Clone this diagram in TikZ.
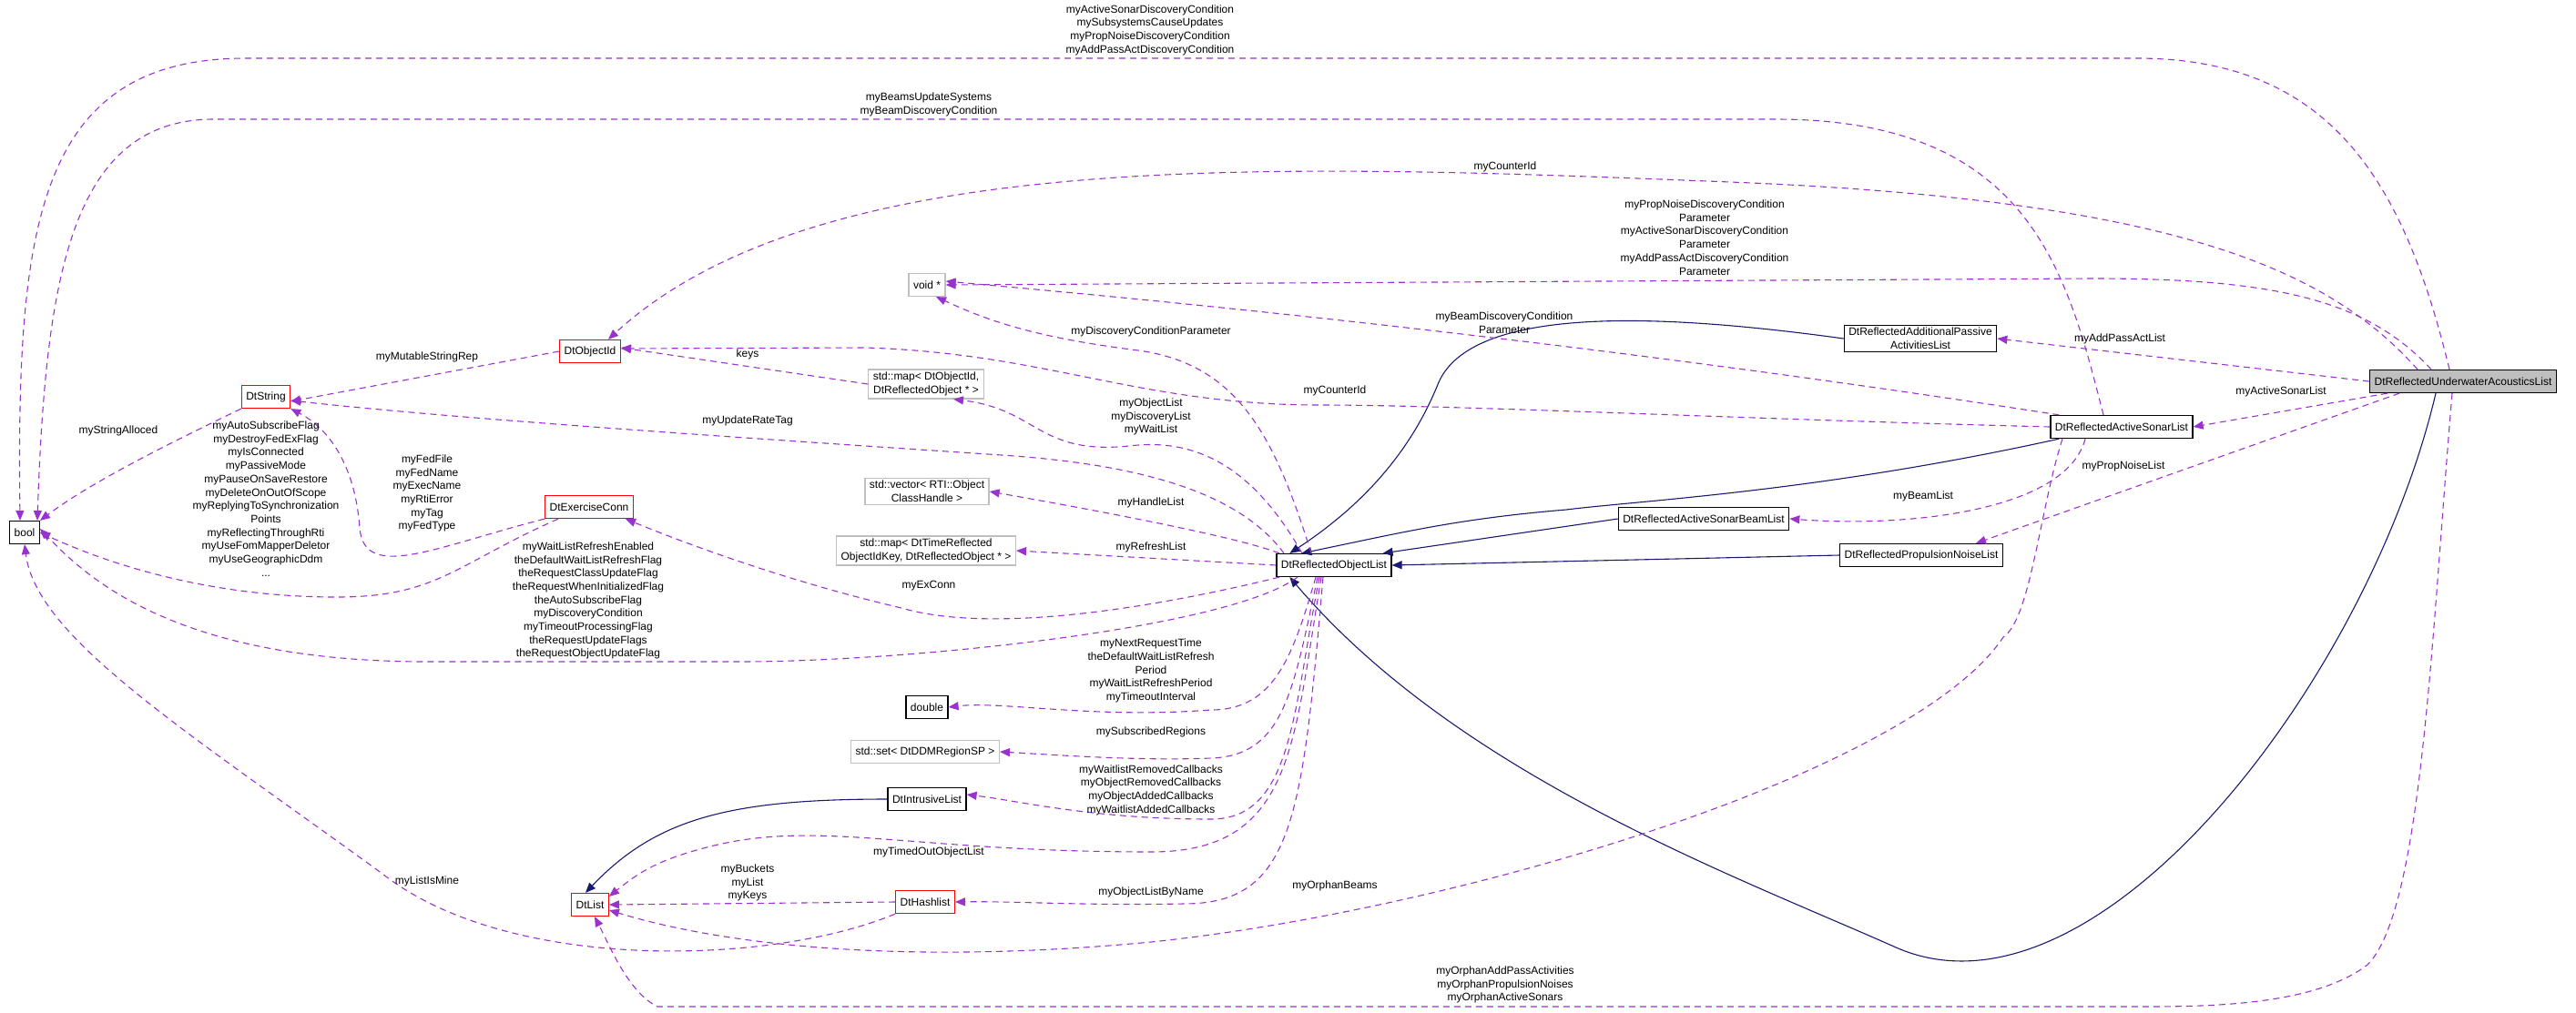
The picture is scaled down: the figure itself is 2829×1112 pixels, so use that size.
\documentclass[tikz,border=0pt]{standalone}
\usepackage{fontspec}
\setmainfont{Liberation Sans}
\usetikzlibrary{arrows.meta}
\definecolor{usecol}{HTML}{9A32CD}
\definecolor{inhcol}{HTML}{191970}
\begin{document}
\begin{tikzpicture}[x=1pt,y=-1pt,
    font=\fontsize{12}{14.7}\selectfont,
    box/.style={draw=black,line width=1.2pt,fill=white,minimum height=25pt,inner xsep=5pt,inner ysep=3pt,align=center},
    redbox/.style={box,draw=red},
    graybox/.style={box,draw=black!25},
    rootbox/.style={box,fill=black!25},
    use/.style={draw=usecol,line width=1.1pt,dash pattern=on 7pt off 5pt,-{Triangle[length=11pt,width=9pt]}},
    inh/.style={draw=inhcol,line width=1.1pt,-{Triangle[length=11pt,width=9pt]}},
    lbl/.style={align=center,inner sep=0pt}]
\useasboundingbox (0,0) rectangle (2829,1112);

\node[box] (bool) at (27,585) {bool};
\node[redbox] (dtstr) at (292,436) {DtString};
\node[redbox] (dtoid) at (648,386) {DtObjectId};
\node[redbox] (exconn) at (647,557) {DtExerciseConn};
\node[graybox] (voidp) at (1018,313) {void *};
\node[graybox] (mapoid) at (1017,422) {std::map\textless{} DtObjectId,\\DtReflectedObject * \textgreater};
\node[graybox] (vechnd) at (1018,540) {std::vector\textless{} RTI::Object\\ClassHandle \textgreater};
\node[graybox] (maptime) at (1017,605) {std::map\textless{} DtTimeReflected\\ObjectIdKey, DtReflectedObject * \textgreater};
\node[box] (objlist) at (1465,621) {DtReflectedObjectList};
\node[box] (double) at (1018,777) {double};
\node[graybox] (regset) at (1016,826) {std::set\textless{} DtDDMRegionSP \textgreater};
\node[box] (intrlist) at (1018,878) {DtIntrusiveList};
\node[redbox] (dtlist) at (648,994) {DtList};
\node[redbox] (hashlist) at (1016,991) {DtHashlist};
\node[box] (addpass) at (2109,372) {DtReflectedAdditionalPassive\\ActivitiesList};
\node[box] (asonar) at (2330,469) {DtReflectedActiveSonarList};
\node[box] (beamlist) at (1871,570) {DtReflectedActiveSonarBeamList};
\node[box] (propnoise) at (2110,610) {DtReflectedPropulsionNoiseList};
\node[rootbox] (uwacl) at (2705,419) {DtReflectedUnderwaterAcousticsList};

% inheritance
\draw[inh] (addpass.west) .. controls (1850,348) and (1620,330) .. (1580,420) .. controls (1560,470) and (1520,540) .. ([xshift=15pt]objlist.north west);
\draw[inh] ([xshift=10pt]asonar.south west) .. controls (2000,540) and (1800,550) .. (1720,560) .. controls (1600,570) and (1540,585) .. ([xshift=28pt]objlist.north west);
\draw[inh] (beamlist.west) -- ([xshift=-10pt]objlist.north east);
\draw[inh] (propnoise.west) -- (objlist.east);
\draw[inh] ([xshift=-30pt]uwacl.south) .. controls (2600,750) and (2300,1140) .. (2080,1040) .. controls (1900,960) and (1600,850) .. ([xshift=15pt]objlist.south west);
\draw[inh] (intrlist.west) .. controls (800,878) and (720,900) .. ([xshift=-5pt]dtlist.north);

% usage
\draw[use] ([xshift=-15pt]uwacl.north) .. controls (2640,200) and (2560,64) .. (2346,64) -- (270,64) .. controls (40,64) and (18,250) .. ([xshift=-5pt]bool.north);
\draw[use] ([xshift=-20pt]asonar.north) .. controls (2270,300) and (2230,131) .. (1950,131) -- (235,131) .. controls (80,131) and (50,300) .. ([xshift=14pt]bool.north);
\draw[use] ([xshift=-50pt]uwacl.north) .. controls (2560,300) and (2400,220) .. (1900,200) .. controls (1400,180) and (900,160) .. ([xshift=20pt]dtoid.north);
\draw[use] ([xshift=-35pt]uwacl.north) .. controls (2600,330) and (2500,306) .. (2300,306) -- (voidp.east);
\draw[use] ([xshift=10pt]asonar.north west) .. controls (1900,400) and (1500,350) .. ([yshift=4pt]voidp.east);
\draw[use] (asonar.west) .. controls (1900,460) and (1600,445) .. (1450,445) .. controls (1250,445) and (1150,388) .. (950,382) -- ([yshift=3pt]dtoid.east);
\draw[use] (uwacl.west) -- (addpass.east);
\draw[use] ([xshift=20pt]uwacl.south west) -- (asonar.east);
\draw[use] ([xshift=-70pt]uwacl.south) -- ([xshift=-30pt]propnoise.north east);
\draw[use] ([xshift=-40pt]asonar.south) .. controls (2270,560) and (2100,580) .. (beamlist.east);
\draw[use] ([xshift=-65pt]asonar.south) .. controls (2240,560) and (2230,680) .. (2200,700) .. controls (2100,850) and (1600,1000) .. (1264,1035) .. controls (1000,1060) and (800,1040) .. ([yshift=-6pt]dtlist.east);
\draw[use] ([xshift=-12pt]uwacl.south) .. controls (2670,700) and (2660,1000) .. (2600,1060) .. controls (2540,1106) and (2420,1106) .. (2346,1106) -- (722,1106) .. controls (690,1090) and (670,1040) .. ([xshift=5pt]dtlist.south);

\draw[use] ([xshift=-25pt]objlist.north) .. controls (1400,480) and (1360,400) .. (1250,385) .. controls (1130,370) and (1080,350) .. ([xshift=10pt]voidp.south);
\draw[use] ([xshift=-35pt]objlist.north) .. controls (1380,520) and (1320,480) .. (1240,490) .. controls (1140,500) and (1140,450) .. ([xshift=30pt]mapoid.south);
\draw[use] ([xshift=-55pt]objlist.north) .. controls (1360,540) and (1250,510) .. (1100,500) .. controls (800,480) and (500,460) .. ([yshift=-4pt]dtstr.east);
\draw[use] ([xshift=-60pt]objlist.north) .. controls (1360,590) and (1200,560) .. (vechnd.east);
\draw[use] (objlist.west) -- (maptime.east);
\draw[use] ([xshift=-60pt]objlist.south) .. controls (1300,660) and (1100,700) .. (990,668) .. controls (870,640) and (760,600) .. ([xshift=40pt]exconn.south);
\draw[use] ([xshift=-40pt]objlist.south) .. controls (1350,690) and (1000,727) .. (812,727) -- (470,727) .. controls (200,727) and (100,640) .. ([yshift=4pt]bool.east);
\draw[use] ([xshift=-20pt]objlist.south) .. controls (1420,720) and (1400,780) .. (1330,780) .. controls (1200,790) and (1100,770) .. (double.east);
\draw[use] ([xshift=-18pt]objlist.south) .. controls (1420,760) and (1410,830) .. (1330,833) .. controls (1250,836) and (1170,830) .. (regset.east);
\draw[use] ([xshift=-16pt]objlist.south) .. controls (1420,780) and (1420,900) .. (1330,900) .. controls (1200,900) and (1120,880) .. ([yshift=5pt]intrlist.east);
\draw[use] ([xshift=-14pt]objlist.south) .. controls (1420,820) and (1420,936) .. (1264,936) .. controls (1000,936) and (900,900) .. (780,930) .. controls (720,945) and (700,960) .. ([yshift=-4pt]dtlist.north east);
\draw[use] ([xshift=-12pt]objlist.south) .. controls (1430,900) and (1420,993) .. (1300,993) .. controls (1180,995) and (1120,990) .. (hashlist.east);

\draw[use] (dtoid.west) -- ([yshift=-5pt]dtstr.east);
\draw[use] (mapoid.west) -- ([yshift=4pt]dtoid.east);
\draw[use] (dtstr.south west) .. controls (180,490) and (100,530) .. (bool.north east);
\draw[use] (exconn.south west) .. controls (480,600) and (400,640) .. (395,580) .. controls (390,510) and (360,470) .. (dtstr.south east);
\draw[use] ([xshift=15pt]exconn.south west) .. controls (500,620) and (480,656) .. (370,656) .. controls (230,656) and (120,620) .. (bool.east);
\draw[use] (hashlist.west) -- (dtlist.east);
\draw[use] (hashlist.south west) .. controls (850,1060) and (560,1070) .. (420,960) .. controls (200,800) and (40,700) .. (bool.south);

% labels
\node[lbl] (l1) at (1263,33) {myActiveSonarDiscoveryCondition\\mySubsystemsCauseUpdates\\myPropNoiseDiscoveryCondition\\myAddPassActDiscoveryCondition};
\node[lbl] (l2) at (1020,115) {myBeamsUpdateSystems\\myBeamDiscoveryCondition};
\node[lbl] (l3) at (1653,183) {myCounterId};
\node[lbl] (l4) at (1872,261) {myPropNoiseDiscoveryCondition\\Parameter\\myActiveSonarDiscoveryCondition\\Parameter\\myAddPassActDiscoveryCondition\\Parameter};
\node[lbl] (l5) at (1652,355) {myBeamDiscoveryCondition\\Parameter};
\node[lbl] (l6) at (1264,364) {myDiscoveryConditionParameter};
\node[lbl] (l7) at (1466,429) {myCounterId};
\node[lbl] (l8) at (821,389) {keys};
\node[lbl] (l9) at (469,392) {myMutableStringRep};
\node[lbl] (l10) at (1264,458) {myObjectList\\myDiscoveryList\\myWaitList};
\node[lbl] (l11) at (821,462) {myUpdateRateTag};
\node[lbl] (l12) at (130,473) {myStringAlloced};
\node[lbl] (l13) at (292,548) {myAutoSubscribeFlag\\myDestroyFedExFlag\\myIsConnected\\myPassiveMode\\myPauseOnSaveRestore\\myDeleteOnOutOfScope\\myReplyingToSynchronization\\Points\\myReflectingThroughRti\\myUseFomMapperDeletor\\myUseGeographicDdm\\...};
\node[lbl] (l14) at (469,542) {myFedFile\\myFedName\\myExecName\\myRtiError\\myTag\\myFedType};
\node[lbl] (l15) at (1264,552) {myHandleList};
\node[lbl] (l16) at (1264,601) {myRefreshList};
\node[lbl] (l17) at (1020,644) {myExConn};
\node[lbl] (l18) at (646,660) {myWaitListRefreshEnabled\\theDefaultWaitListRefreshFlag\\theRequestClassUpdateFlag\\theRequestWhenInitializedFlag\\theAutoSubscribeFlag\\myDiscoveryCondition\\myTimeoutProcessingFlag\\theRequestUpdateFlags\\theRequestObjectUpdateFlag};
\node[lbl] (l19) at (1264,737) {myNextRequestTime\\theDefaultWaitListRefresh\\Period\\myWaitListRefreshPeriod\\myTimeoutInterval};
\node[lbl] (l20) at (1264,804) {mySubscribedRegions};
\node[lbl] (l21) at (1264,868) {myWaitlistRemovedCallbacks\\myObjectRemovedCallbacks\\myObjectAddedCallbacks\\myWaitlistAddedCallbacks};
\node[lbl] (l22) at (1020,936) {myTimedOutObjectList};
\node[lbl] (l23) at (821,970) {myBuckets\\myList\\myKeys};
\node[lbl] (l24) at (469,968) {myListIsMine};
\node[lbl] (l25) at (1264,980) {myObjectListByName};
\node[lbl] (l26) at (1466,973) {myOrphanBeams};
\node[lbl] (l27) at (1653,1082) {myOrphanAddPassActivities\\myOrphanPropulsionNoises\\myOrphanActiveSonars};
\node[lbl] (l28) at (2328,372) {myAddPassActList};
\node[lbl] (l29) at (2505,430) {myActiveSonarList};
\node[lbl] (l30) at (2332,512) {myPropNoiseList};
\node[lbl] (l31) at (2112,545) {myBeamList};
\end{tikzpicture}
\end{document}
